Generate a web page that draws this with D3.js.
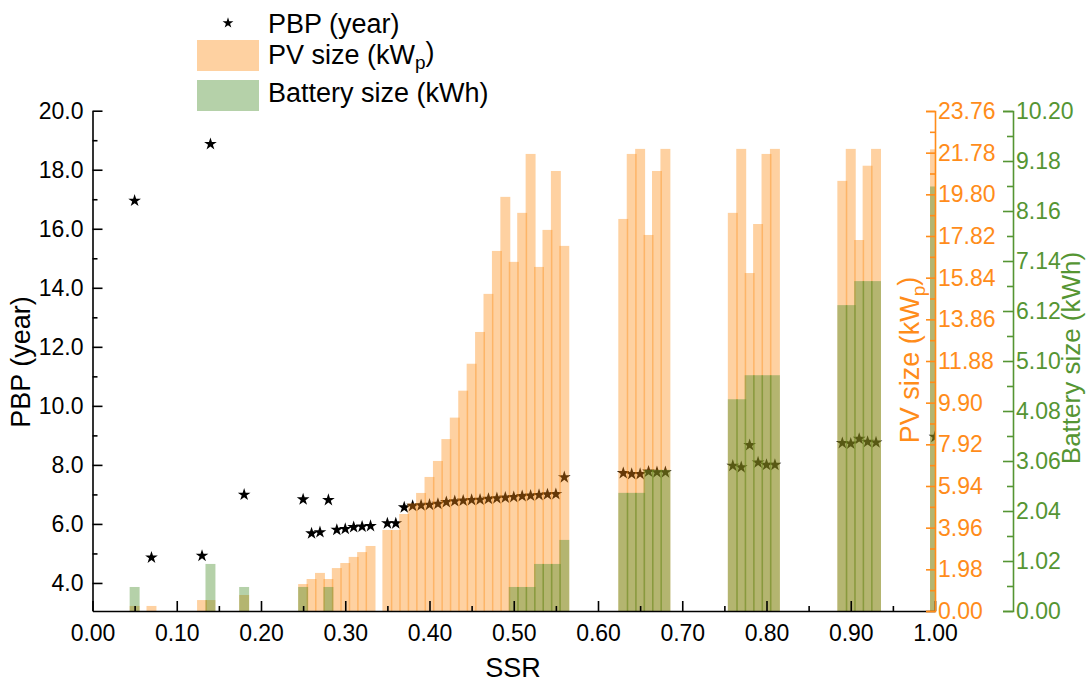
<!DOCTYPE html>
<html><head><meta charset="utf-8">
<script src="https://cdn.jsdelivr.net/npm/d3@7"></script>
<style>
body{margin:0;background:#fff;}
text{font-family:"Liberation Sans",Arial,Helvetica,sans-serif;}
</style>
</head><body>
<svg id="chart" width="1088" height="689"></svg>
<script>
// ---- data ----
const ssr = [0.05,0.07,0.13,0.14,0.18,0.25,0.26,0.27,0.28,0.29,0.30,0.31,0.32,0.33,0.35,0.36,0.37,0.38,0.39,0.40,0.41,0.42,0.43,0.44,0.45,0.46,0.47,0.48,0.49,0.50,0.51,0.52,0.53,0.54,0.55,0.56,0.63,0.64,0.65,0.66,0.67,0.68,0.76,0.77,0.78,0.79,0.80,0.81,0.89,0.90,0.91,0.92,0.93,1.00];
const pbp = [16.95,4.86,4.92,18.87,6.99,6.83,5.68,5.72,6.81,5.80,5.83,5.89,5.91,5.93,6.02,6.02,6.56,6.61,6.63,6.65,6.68,6.74,6.77,6.79,6.81,6.82,6.85,6.87,6.89,6.91,6.94,6.96,6.98,7.00,7.01,7.58,7.72,7.69,7.69,7.77,7.75,7.75,7.97,7.92,8.67,8.08,8.00,8.00,8.74,8.72,8.88,8.78,8.76,8.95];
const pvSize = [0.24,0.24,0.52,0.52,0.76,1.28,1.52,1.81,1.52,2.04,2.28,2.57,2.80,3.09,3.85,3.85,4.61,5.12,5.61,6.37,7.13,8.17,9.19,10.47,11.75,13.26,15.07,17.11,19.68,16.59,18.92,21.72,16.35,18.11,20.91,17.35,18.63,21.72,21.96,17.87,20.91,21.96,18.92,21.96,16.06,18.39,21.72,21.96,20.44,21.96,17.63,21.16,21.96,21.94];
const batterySize = [0.49,0,0,0.96,0.49,0.49,0,0,0.49,0,0,0,0,0,0,0,0,0,0,0,0,0,0,0,0,0,0,0,0,0.49,0.49,0.49,0.96,0.96,0.96,1.45,2.41,2.41,2.41,2.88,2.88,2.88,4.32,4.32,4.81,4.81,4.81,4.81,6.24,6.24,6.73,6.73,6.73,8.66];

const ssrTicks = [0,0.1,0.2,0.3,0.4,0.5,0.6,0.7,0.8,0.9,1.0];
const pbpTicks = [4,6,8,10,12,14,16,18,20];
const pvTicks = [0,1.98,3.96,5.94,7.92,9.90,11.88,13.86,15.84,17.82,19.80,21.78,23.76];
const batTicks = [0,1.02,2.04,3.06,4.08,5.10,6.12,7.14,8.16,9.18,10.20];

// ---- styling ----
const ORANGE = "#FF8C1A", GREEN = "#559533";
const BAR_OR = "rgb(253,140,20)", BAR_GR = "rgb(70,140,40)";

const svg = d3.select("#chart");
const L = 92.5, R = 935, T = 110.7, B = 611;

const x = d3.scaleLinear([0,1],[L,R]);
const yL = d3.scaleLinear([3.05,20],[B,T]);
const yPV = d3.scaleLinear([0,23.76],[B,111]);
const yB = d3.scaleLinear([0,10.2],[B,111]);

svg.append("defs").append("clipPath").attr("id","clip")
  .append("rect").attr("x",L).attr("y",90).attr("width",R-L).attr("height",B-90);

const data = ssr.map((s,i)=>({s, p:pbp[i], pv:pvSize[i], b:batterySize[i]}));
const bw = x(0.0118)-x(0);

const plot = svg.append("g").attr("clip-path","url(#clip)");
// stars below bars
plot.append("g").selectAll("path").data(data).join("path")
  .attr("d", d3.symbol(d3.symbolStar, 50))
  .attr("transform", d=>`translate(${x(d.s)},${yL(d.p)})`)
  .attr("fill","#000");
plot.append("g").selectAll("rect").data(data.filter(d=>d.pv>0)).join("rect")
  .attr("x", d=>x(d.s)-bw/2).attr("width", bw)
  .attr("y", d=>yPV(d.pv)).attr("height", d=>yPV(0)-yPV(d.pv))
  .attr("fill", BAR_OR).attr("fill-opacity",0.4);
plot.append("g").selectAll("rect").data(data.filter(d=>d.b>0)).join("rect")
  .attr("x", d=>x(d.s)-bw/2).attr("width", bw)
  .attr("y", d=>yB(d.b)).attr("height", d=>yB(0)-yB(d.b))
  .attr("fill", BAR_GR).attr("fill-opacity",0.4);

function styleAxis(g, color, fs){
  g.selectAll("path,line").attr("stroke", color).attr("stroke-width",1.6);
  g.selectAll("text").attr("fill", color).style("font-size", fs+"px");
  g.attr("font-family", null);
}
const mids = arr => arr.slice(1).map((v,i)=>(v+arr[i])/2);

// x axis
const gx = svg.append("g").attr("transform",`translate(0,${B})`)
  .call(d3.axisBottom(x).tickValues(ssrTicks).tickFormat(d3.format(".2f")).tickSize(-10).tickSizeOuter(0).tickPadding(14));
styleAxis(gx,"#000",23);
const gxm = svg.append("g").attr("transform",`translate(0,${B})`)
  .call(d3.axisBottom(x).tickValues(mids(ssrTicks)).tickFormat("").tickSize(-5));
gxm.select(".domain").remove(); styleAxis(gxm,"#000",23);

// left axis
const gy = svg.append("g").attr("transform",`translate(${L},0)`)
  .call(d3.axisLeft(yL).tickValues(pbpTicks).tickFormat(d3.format(".1f")).tickSize(-10).tickSizeOuter(0).tickPadding(9));
styleAxis(gy,"#000",23);
const gym = svg.append("g").attr("transform",`translate(${L},0)`)
  .call(d3.axisLeft(yL).tickValues(mids(pbpTicks)).tickFormat("").tickSize(-5));
gym.select(".domain").remove(); styleAxis(gym,"#000",23);

// PV axis
const gp = svg.append("g").attr("transform",`translate(${R},0)`)
  .call(d3.axisRight(yPV).tickValues(pvTicks).tickFormat(d3.format(".2f")).tickSize(-9).tickSizeOuter(-9).tickPadding(3));
styleAxis(gp,ORANGE,23);
const gpm = svg.append("g").attr("transform",`translate(${R},0)`)
  .call(d3.axisRight(yPV).tickValues(mids(pvTicks)).tickFormat("").tickSize(-5));
gpm.select(".domain").remove(); styleAxis(gpm,ORANGE,23);

// Battery axis
const BX = 1013;
const gb = svg.append("g").attr("transform",`translate(${BX},0)`)
  .call(d3.axisRight(yB).tickValues(batTicks).tickFormat(d3.format(".2f")).tickSize(-10).tickSizeOuter(-10).tickPadding(3));
styleAxis(gb,GREEN,23);
const gbm = svg.append("g").attr("transform",`translate(${BX},0)`)
  .call(d3.axisRight(yB).tickValues(mids(batTicks)).tickFormat("").tickSize(-6));
gbm.select(".domain").remove(); styleAxis(gbm,GREEN,23);

// titles
svg.append("text").attr("x",513).attr("y",677).attr("text-anchor","middle")
  .style("font-size","27px").text("SSR");
svg.append("text").attr("transform","translate(30,362) rotate(-90)").attr("text-anchor","middle")
  .style("font-size","27px").text("PBP (year)");
const pvt = svg.append("text").attr("transform","translate(919,360) rotate(-90)").attr("text-anchor","middle")
  .style("font-size","27px").attr("fill",ORANGE);
pvt.append("tspan").text("PV size (kW");
pvt.append("tspan").attr("dy","0.3em").style("font-size","19px").text("p");
pvt.append("tspan").attr("dy","-0.3em").text(")");
svg.append("text").attr("transform",`translate(1080,358) rotate(-90)`).attr("text-anchor","middle")
  .style("font-size","26px").attr("fill",GREEN).text("Battery size (kWh)");

// legend
const lg = svg.append("g");
lg.append("path").attr("d", d3.symbol(d3.symbolStar, 36)).attr("transform","translate(228,23)").attr("fill","#000");
lg.append("text").attr("x",268).attr("y",33).style("font-size","27px").text("PBP (year)");
lg.append("rect").attr("x",197).attr("y",40).attr("width",62).attr("height",31).attr("fill",BAR_OR).attr("fill-opacity",0.4);
const lpv = lg.append("text").attr("x",268).attr("y",63.5).style("font-size","27px");
lpv.append("tspan").text("PV size (kW");
lpv.append("tspan").attr("dy","0.3em").style("font-size","19px").text("p");
lpv.append("tspan").attr("dy","-0.3em").text(")");
lg.append("rect").attr("x",197).attr("y",80).attr("width",62).attr("height",31).attr("fill",BAR_GR).attr("fill-opacity",0.4);
lg.append("text").attr("x",268).attr("y",102).style("font-size","27px").text("Battery size (kWh)");
</script>
</body></html>
